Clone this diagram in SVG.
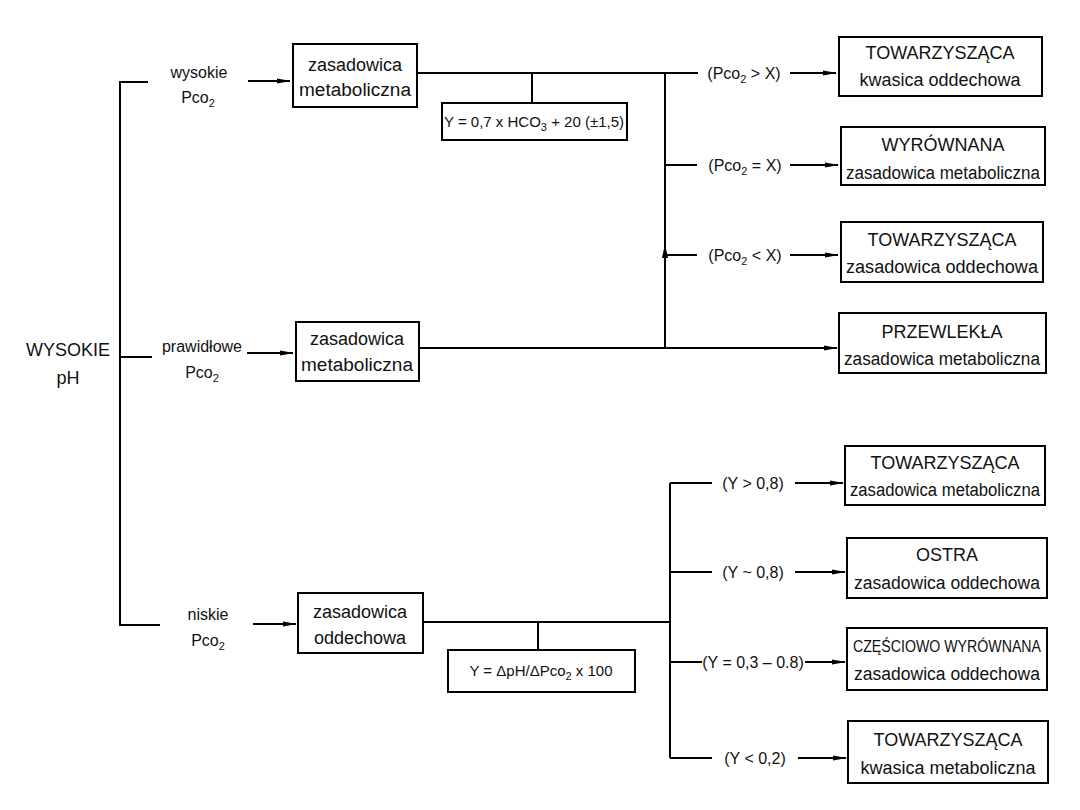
<svg xmlns="http://www.w3.org/2000/svg" width="1080" height="810" viewBox="0 0 1080 810">
<defs>
<marker id="ah" markerWidth="14" markerHeight="6" refX="13" refY="3" orient="auto" markerUnits="userSpaceOnUse">
<path d="M0,0.6 L14,3 L0,5.4 z" fill="#000"/>
</marker>
<style>
text{font-family:"Liberation Sans",Arial,sans-serif;fill:#111;text-anchor:middle}
.b{font-size:18px}
.l{font-size:16px}
.f{font-size:15px}
.sub{font-size:11px}
rect.box{fill:#fff;stroke:#000;stroke-width:2}
.c{fill:none;stroke:#000;stroke-width:2}
.a{fill:none;stroke:#000;stroke-width:2;marker-end:url(#ah)}
</style>
</defs>
<rect width="1080" height="810" fill="#fff"/>

<g id="connectors">
<path class="c" d="M148,82 H120 V625 H160"/>
<path class="c" d="M120,357 H152"/>
<path class="a" d="M248,81 H290"/>
<path class="a" d="M247,353 H293"/>
<path class="a" d="M253,624 H296"/>
<path class="c" d="M417,73 H698"/>
<path class="c" d="M532,73 V103"/>
<path class="c" d="M665,73 V348"/>
<path class="c" d="M665,165 H697"/>
<path class="c" d="M665,255 H697"/>
<path class="a" d="M790,73 H836"/>
<path class="a" d="M790,165 H838"/>
<path class="a" d="M790,255 H838"/>
<path class="a" d="M419,348 H837"/>
<path d="M665,244 L668,258 L662,258 z" fill="#000"/>
<path class="c" d="M423,622 H670"/>
<path class="c" d="M538,622 V650"/>
<path class="c" d="M670,483 V758"/>
<path class="c" d="M670,483 H712"/>
<path class="c" d="M670,572 H712"/>
<path class="c" d="M670,662 H702"/>
<path class="c" d="M670,758 H712"/>
<path class="a" d="M795,483 H843"/>
<path class="a" d="M795,572 H845"/>
<path class="a" d="M805,662 H845"/>
<path class="a" d="M798,758 H846"/>
</g>

<g id="n-ph"><text class="b" x="68" y="356">WYSOKIE</text><text class="b" x="68" y="384">pH</text></g>
<g id="l-wysokie"><text class="l" x="199" y="78">wysokie</text><text class="l" x="198" y="103">Pco<tspan class="sub" dy="4">2</tspan></text></g>
<g id="l-prawidlowe"><text class="l" x="202" y="352">prawidłowe</text><text class="l" x="202" y="378">Pco<tspan class="sub" dy="4">2</tspan></text></g>
<g id="l-niskie"><text class="l" x="208" y="620">niskie</text><text class="l" x="208" y="646">Pco<tspan class="sub" dy="4">2</tspan></text></g>

<g id="n-a"><rect class="box" x="293" y="44" width="124" height="63"/><text class="b" x="355" y="71">zasadowica</text><text class="b" x="355" y="96" textLength="112" lengthAdjust="spacingAndGlyphs">metaboliczna</text></g>
<g id="n-b"><rect class="box" x="296" y="322" width="123" height="59"/><text class="b" x="357" y="345">zasadowica</text><text class="b" x="357" y="371" textLength="112" lengthAdjust="spacingAndGlyphs">metaboliczna</text></g>
<g id="n-c"><rect class="box" x="298" y="593" width="125" height="60"/><text class="b" x="360" y="618">zasadowica</text><text class="b" x="360" y="644">oddechowa</text></g>

<g id="n-f1"><rect class="box" x="442" y="103" width="185" height="37"/><text class="f" x="534" y="127">Y = 0,7 x HCO<tspan class="sub" dy="4">3</tspan><tspan dy="-4"> + 20 (±1,5)</tspan></text></g>
<g id="n-f2"><rect class="box" x="448" y="650" width="187" height="42"/><text class="f" x="541" y="676">Y = ΔpH/ΔPco<tspan class="sub" dy="4">2</tspan><tspan dy="-4"> x 100</tspan></text></g>

<g id="l-top"><text class="l" x="744" y="79">(Pco<tspan class="sub" dy="4">2</tspan><tspan dy="-4"> &gt; X)</tspan></text>
<text class="l" x="745" y="171">(Pco<tspan class="sub" dy="4">2</tspan><tspan dy="-4"> = X)</tspan></text>
<text class="l" x="745" y="261">(Pco<tspan class="sub" dy="4">2</tspan><tspan dy="-4"> &lt; X)</tspan></text></g>

<g id="l-bottom"><text class="l" x="753" y="489">(Y &gt; 0,8)</text>
<text class="l" x="753" y="578">(Y ~ 0,8)</text>
<text class="l" x="753" y="668">(Y = 0,3 – 0.8)</text>
<text class="l" x="755" y="764">(Y &lt; 0,2)</text></g>

<g id="n-r1"><rect class="box" x="839" y="37" width="203" height="59"/><text class="b" x="940" y="59">TOWARZYSZĄCA</text><text class="b" x="940" y="86">kwasica oddechowa</text></g>
<g id="n-r2"><rect class="box" x="841" y="127" width="204" height="58"/><text class="b" x="943" y="151">WYRÓWNANA</text><text class="b" x="943" y="179" textLength="194" lengthAdjust="spacingAndGlyphs">zasadowica metaboliczna</text></g>
<g id="n-r3"><rect class="box" x="841" y="222" width="202" height="60"/><text class="b" x="942" y="246">TOWARZYSZĄCA</text><text class="b" x="942" y="273" textLength="192" lengthAdjust="spacingAndGlyphs">zasadowica oddechowa</text></g>
<g id="n-r4"><rect class="box" x="839" y="313" width="207" height="60"/><text class="b" x="942" y="338">PRZEWLEKŁA</text><text class="b" x="942" y="365" textLength="196" lengthAdjust="spacingAndGlyphs">zasadowica metaboliczna</text></g>
<g id="n-r5"><rect class="box" x="845" y="446" width="200" height="59"/><text class="b" x="945" y="469">TOWARZYSZĄCA</text><text class="b" x="945" y="496" textLength="190" lengthAdjust="spacingAndGlyphs">zasadowica metaboliczna</text></g>
<g id="n-r6"><rect class="box" x="847" y="538" width="200" height="60"/><text class="b" x="947" y="561">OSTRA</text><text class="b" x="947" y="589" textLength="186" lengthAdjust="spacingAndGlyphs">zasadowica oddechowa</text></g>
<g id="n-r7"><rect class="box" x="847" y="628" width="200" height="62"/><text x="947" y="652" style="font-size:16px" textLength="188" lengthAdjust="spacingAndGlyphs">CZĘŚCIOWO WYRÓWNANA</text><text class="b" x="947" y="680" textLength="186" lengthAdjust="spacingAndGlyphs">zasadowica oddechowa</text></g>
<g id="n-r8"><rect class="box" x="848" y="721" width="200" height="62"/><text class="b" x="948" y="746">TOWARZYSZĄCA</text><text class="b" x="948" y="774">kwasica metaboliczna</text></g>
</svg>
